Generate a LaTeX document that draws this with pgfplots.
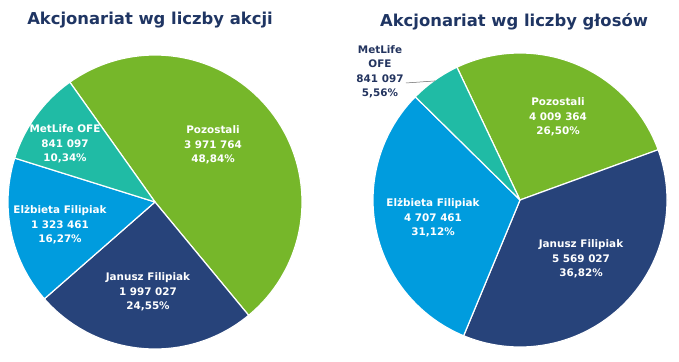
\documentclass[border=0pt]{standalone}
\usepackage{pgfplots}
\pgfplotsset{compat=1.18}
\usepackage{fontspec}
\setmainfont{DejaVu Sans}
\definecolor{cgreen}{RGB}{118,183,42}
\definecolor{cnavy}{RGB}{39,67,122}
\definecolor{cblue}{RGB}{0,156,222}
\definecolor{cteal}{RGB}{32,187,165}
\definecolor{ctitle}{RGB}{31,53,99}
\definecolor{clabel}{RGB}{35,52,95}
% shares in percent (left: shares, right: votes), slices clockwise
\pgfmathsetmacro\La{125.4}
\pgfmathsetmacro\Lb{\La-48.84*3.6}
\pgfmathsetmacro\Lc{\Lb-24.55*3.6}
\pgfmathsetmacro\Ld{\Lc-16.27*3.6}
\pgfmathsetmacro\Le{\Ld-10.34*3.6}
\pgfmathsetmacro\Ra{115.4}
\pgfmathsetmacro\Rb{\Ra-26.50*3.6}
\pgfmathsetmacro\Rc{\Rb-36.82*3.6}
\pgfmathsetmacro\Rd{\Rc-31.12*3.6}
\pgfmathsetmacro\Re{\Rd-5.56*3.6}
\newcommand{\slice}[3]{\addplot[fill=#1, draw=white, line width=1.2pt, line join=round, data cs=polar, domain=#2:#3, samples=120] ({x},{1}) -- (axis cs:0,0) -- cycle;}
\begin{document}
\begin{tikzpicture}
\path[use as bounding box] (0,0) rectangle (679pt,-361pt);
\begin{axis}[at={(155pt,-202pt)}, anchor=center, hide axis, x=147pt, y=147pt,
  xmin=-1.1, xmax=1.1, ymin=-1.1, ymax=1.1, clip=false]
\slice{cgreen}{\Lb}{\La}
\slice{cnavy}{\Lc}{\Lb}
\slice{cblue}{\Ld}{\Lc}
\slice{cteal}{\Le}{\Ld}
\end{axis}
\begin{axis}[at={(520pt,-200pt)}, anchor=center, hide axis, x=147pt, y=147pt,
  xmin=-1.1, xmax=1.1, ymin=-1.1, ymax=1.1, clip=false]
\slice{cgreen}{\Rb}{\Ra}
\slice{cnavy}{\Rc}{\Rb}
\slice{cblue}{\Rd}{\Rc}
\slice{cteal}{\Re}{\Rd}
\addplot[color=gray!80!black, line width=0.5pt] coordinates {(-0.776,0.796) (-0.578,0.81)};
\end{axis}
\tikzset{lab/.style={align=center, text=white, font=\fontsize{10.4}{14.5}\selectfont\bfseries, inner sep=0pt}}
\node[anchor=base, text=ctitle, font=\fontsize{16.4}{18}\selectfont\bfseries] at (150pt,-25pt) {Akcjonariat wg liczby akcji};
\node[anchor=base, text=ctitle, font=\fontsize{16.4}{18}\selectfont\bfseries] at (514pt,-27pt) {Akcjonariat wg liczby głosów};
\node[lab] at (65pt,-144pt) {MetLife OFE\\841 097\\10,34\%};
\node[lab] at (213pt,-145pt) {Pozostali\\3 971 764\\48,84\%};
\node[lab] at (60pt,-225pt) {Elżbieta Filipiak\\1 323 461\\16,27\%};
\node[lab] at (148pt,-292pt) {Janusz Filipiak\\1 997 027\\24,55\%};
\node[lab, text=clabel] at (380pt,-72pt) {MetLife\\OFE\\841 097\\5,56\%};
\node[lab] at (558pt,-117pt) {Pozostali\\4 009 364\\26,50\%};
\node[lab] at (433pt,-218pt) {Elżbieta Filipiak\\4 707 461\\31,12\%};
\node[lab] at (581pt,-259pt) {Janusz Filipiak\\5 569 027\\36,82\%};
\end{tikzpicture}
\end{document}
